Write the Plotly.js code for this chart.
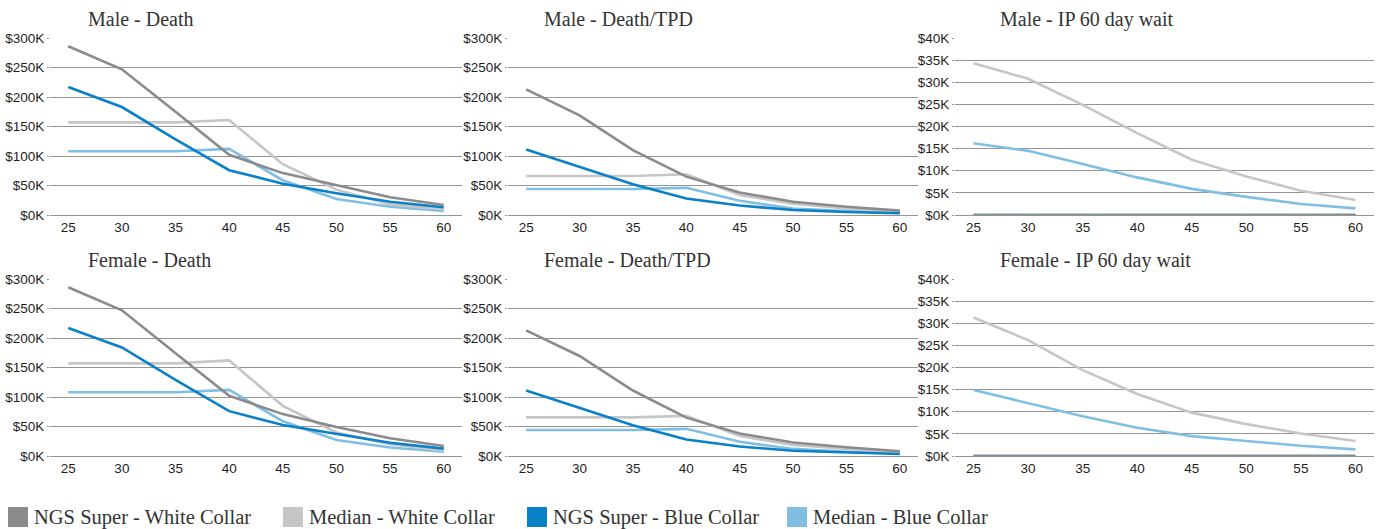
<!DOCTYPE html>
<html>
<head>
<meta charset="utf-8">
<script src="https://cdn.plot.ly/plotly-3.0.1.min.js"></script>
<style>
  html, body { margin: 0; padding: 0; background: #fff; }
  #chart { width: 1384px; height: 529px; }
</style>
</head>
<body>
<div id="chart"></div>
<script>
// ---- data (values in $K) ----
const ages = [25, 30, 35, 40, 45, 50, 55, 60];

const seriesNames = ["NGS Super - White Collar", "Median - White Collar", "NGS Super - Blue Collar", "Median - Blue Collar"];

const panelTitles = ["Male - Death", "Male - Death/TPD", "Male - IP 60 day wait",
                     "Female - Death", "Female - Death/TPD", "Female - IP 60 day wait"];

// Male - Death
const maleDeathNgsWhite = [286, 247, 175, 102, 71, 50, 30, 17];
const maleDeathMedWhite = [157, 157, 157, 161, 86, 43, 18, 10];
const maleDeathNgsBlue  = [217, 183, 128, 76, 53, 37, 22.5, 13];
const maleDeathMedBlue  = [108, 108, 108, 112, 59, 27, 14, 7];

// Male - Death/TPD
const maleTpdNgsWhite = [213, 169, 110, 65, 38, 22.5, 14, 7.5];
const maleTpdMedWhite = [66, 66, 66, 69, 34, 19, 11, 5];
const maleTpdNgsBlue  = [111, 81, 52, 28, 16, 8.5, 5, 3];
const maleTpdMedBlue  = [44, 44, 44, 46, 24, 11, 6.5, 4];

// Male - IP 60 day wait
const maleIpNgsWhite = [0, 0, 0, 0, 0, 0, 0, 0];
const maleIpMedWhite = [34.3, 30.8, 24.9, 18.5, 12.5, 8.7, 5.5, 3.4];
const maleIpNgsBlue  = [0, 0, 0, 0, 0, 0, 0, 0];
const maleIpMedBlue  = [16.2, 14.5, 11.5, 8.5, 5.9, 4.1, 2.5, 1.5];

// Female - Death
const femaleDeathNgsWhite = [286, 247, 174, 102, 71, 49, 30, 17];
const femaleDeathMedWhite = [157, 157, 157, 162, 85, 40, 20, 9];
const femaleDeathNgsBlue  = [217, 184, 129, 76, 52.5, 37, 22.5, 12.5];
const femaleDeathMedBlue  = [108, 108, 108, 112, 59, 27, 14.5, 7.3];

// Female - Death/TPD
const femaleTpdNgsWhite = [213, 169.5, 111, 65, 38, 23, 14.7, 8];
const femaleTpdMedWhite = [65.5, 65.5, 65.5, 68, 34, 18.6, 12, 5.6];
const femaleTpdNgsBlue  = [111, 81, 52, 28, 16, 9, 5.6, 3.4];
const femaleTpdMedBlue  = [44, 44, 44, 46, 24, 12, 7.3, 4.5];

// Female - IP 60 day wait
const femaleIpNgsWhite = [0, 0, 0, 0, 0, 0, 0, 0];
const femaleIpMedWhite = [31.3, 26.2, 19.4, 14, 9.8, 7.2, 5.1, 3.4];
const femaleIpNgsBlue  = [0, 0, 0, 0, 0, 0, 0, 0];
const femaleIpMedBlue  = [14.9, 11.9, 9.0, 6.4, 4.5, 3.4, 2.3, 1.5];

const yMaxDeath = 300, yStepDeath = 50;
const yMaxIp = 40, yStepIp = 5;

// ---- build ----
const W = 1384, H = 529;
const colors = ["#8b8b8d", "#c6c6c8", "#0a80c6", "#80bfe4"];
const drawOrder = [3, 1, 2, 0]; // median blue, median white, ngs blue, ngs white (top)

const panelData = [
  [maleDeathNgsWhite, maleDeathMedWhite, maleDeathNgsBlue, maleDeathMedBlue],
  [maleTpdNgsWhite, maleTpdMedWhite, maleTpdNgsBlue, maleTpdMedBlue],
  [maleIpNgsWhite, maleIpMedWhite, maleIpNgsBlue, maleIpMedBlue],
  [femaleDeathNgsWhite, femaleDeathMedWhite, femaleDeathNgsBlue, femaleDeathMedBlue],
  [femaleTpdNgsWhite, femaleTpdMedWhite, femaleTpdNgsBlue, femaleTpdMedBlue],
  [femaleIpNgsWhite, femaleIpMedWhite, femaleIpNgsBlue, femaleIpMedBlue]
];
const panelYMax = [yMaxDeath, yMaxDeath, yMaxIp, yMaxDeath, yMaxDeath, yMaxIp];
const panelYStep = [yStepDeath, yStepDeath, yStepIp, yStepDeath, yStepDeath, yStepIp];

// pixel layout
const colX = [[50, 462], [508, 918], [955, 1374]];
const rowY = [[38, 215], [279, 456]];
const titleX = [86, 542, 998];
const titleY = [19, 260];

const px = v => v / W;
const py = v => 1 - v / H;

const traces = [];
const layout = {
  width: W, height: H,
  margin: {l: 0, r: 0, t: 0, b: 0},
  paper_bgcolor: "#ffffff",
  plot_bgcolor: "#ffffff",
  showlegend: false,
  annotations: [],
  shapes: []
};

const tickFont = {family: "Liberation Sans, Arial, sans-serif", size: 13.5, color: "#1e1e1e"};

for (let p = 0; p < 6; p++) {
  const row = Math.floor(p / 3), col = p % 3;
  const suffix = p === 0 ? "" : String(p + 1);
  const xa = "x" + suffix, ya = "y" + suffix;
  layout["xaxis" + suffix] = {
    domain: [px(colX[col][0]), px(colX[col][1])],
    anchor: ya,
    range: [23.3, 61.7],
    tickvals: ages,
    ticktext: ages.map(String),
    tickfont: tickFont,
    ticks: "",
    ticklabelstandoff: 2,
    showgrid: false,
    zeroline: false,
    showline: false,
    fixedrange: true
  };
  layout["yaxis" + suffix] = {
    domain: [py(rowY[row][1]), py(rowY[row][0])],
    anchor: xa,
    range: [0, panelYMax[p]],
    dtick: panelYStep[p],
    tick0: 0,
    tickprefix: "$",
    ticksuffix: "K",
    tickfont: tickFont,
    ticks: "outside",
    ticklen: 2,
    tickcolor: "#959595",
    showgrid: true,
    gridcolor: "#959595",
    gridwidth: 1,
    zeroline: true,
    zerolinecolor: "#959595",
    zerolinewidth: 1,
    showline: false,
    fixedrange: true
  };
  for (const s of drawOrder) {
    traces.push({
      type: "scatter", mode: "lines",
      x: ages, y: panelData[p][s],
      xaxis: xa, yaxis: ya,
      name: seriesNames[s],
      line: {color: colors[s], width: 2.6},
      hoverinfo: "x+y+name"
    });
  }
  layout.annotations.push({
    text: panelTitles[p],
    xref: "paper", yref: "paper",
    x: px(titleX[col]), y: py(titleY[row]),
    xanchor: "left", yanchor: "middle",
    showarrow: false,
    font: {family: "Liberation Serif, Times New Roman, serif", size: 20, color: "#333"}
  });
}

// legend (custom, square swatches)
const legendSwatchX = [8, 283, 527, 787];
for (let i = 0; i < 4; i++) {
  layout.shapes.push({
    type: "rect", xref: "paper", yref: "paper",
    x0: px(legendSwatchX[i]), x1: px(legendSwatchX[i] + 20),
    y0: py(527), y1: py(507),
    fillcolor: colors[i], line: {width: 0}
  });
  layout.annotations.push({
    text: seriesNames[i],
    xref: "paper", yref: "paper",
    x: px(legendSwatchX[i] + 24), y: py(517),
    xanchor: "left", yanchor: "middle",
    showarrow: false,
    font: {family: "Liberation Serif, Times New Roman, serif", size: 20.5, color: "#333"}
  });
}

Plotly.newPlot("chart", traces, layout, {displayModeBar: false, staticPlot: false});
</script>
</body>
</html>
